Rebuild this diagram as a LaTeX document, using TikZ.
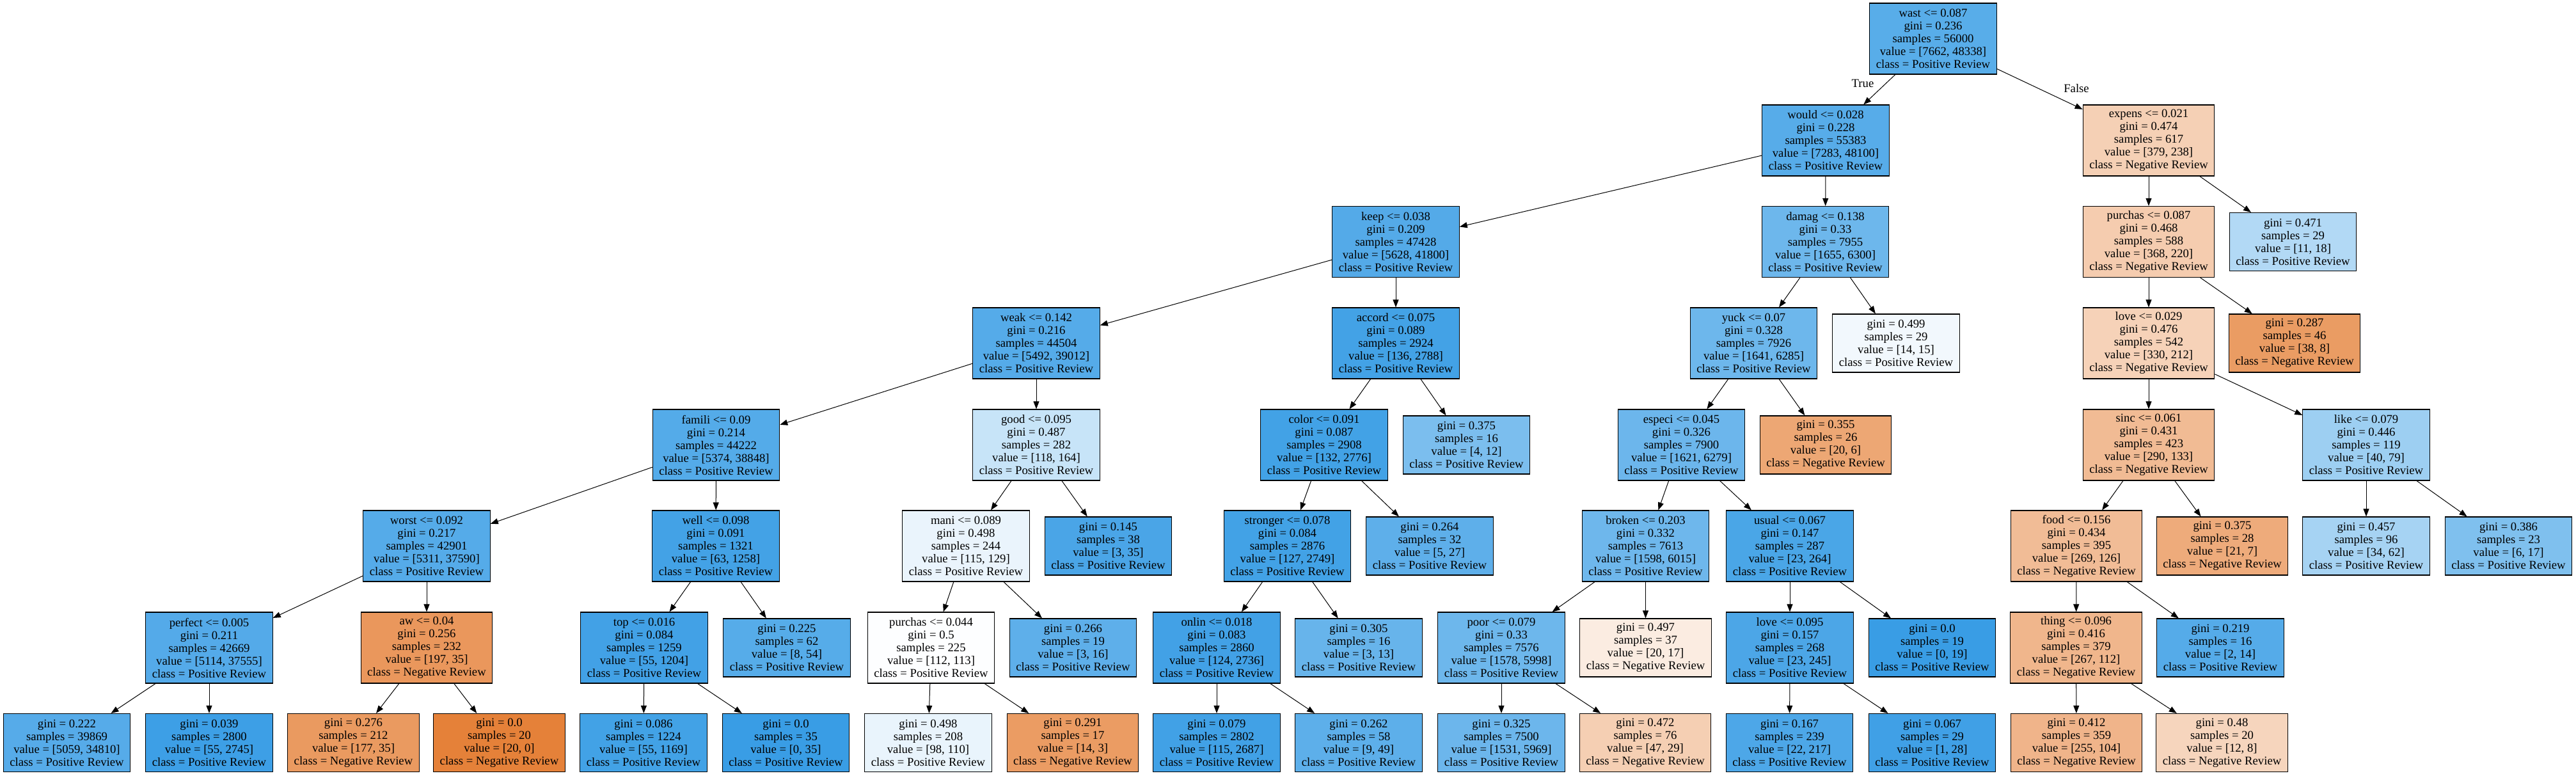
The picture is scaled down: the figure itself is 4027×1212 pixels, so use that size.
\documentclass[tikz,border=0pt]{standalone}
\usepackage{fontspec}
\setmainfont{Liberation Serif}
\usetikzlibrary{arrows.meta}
\definecolor{cneg}{RGB}{229,129,57}
\definecolor{cpos}{RGB}{57,157,229}
\newcommand\setfill[2]{%
  \edef\myalpha{\fpeval{round(100*(1-min(#1,#2)/max(#1,#2)),2)}}%
  \ifnum#1>#2\relax\colorlet{nfill}{cneg!\myalpha!white}\else\colorlet{nfill}{cpos!\myalpha!white}\fi}
\newcommand\inode[8]{\setfill{#7}{#8}%
  \node[tn,fill=nfill,minimum height=55.5pt] (#1) at (#2,#3)
  {#4\\gini = #5\\samples = #6\\value = [#7, #8]\\class = \ifnum#7>#8 Negative\else Positive\fi{} Review};}
\newcommand\lnode[7]{\setfill{#6}{#7}%
  \node[tn,fill=nfill,minimum height=45.5pt] (#1) at (#2,#3)
  {gini = #4\\samples = #5\\value = [#6, #7]\\class = \ifnum#6>#7 Negative\else Positive\fi{} Review};}
\tikzset{
  tn/.style={draw=black,line width=0.6pt,inner xsep=5pt,inner ysep=0pt,align=center,
    font=\fontsize{9.35pt}{10pt}\selectfont},
  edge/.style={line width=0.5pt,-{Triangle[length=6pt,width=4.5pt]}},
  lbl/.style={font=\fontsize{9.35pt}{10pt}\selectfont,inner sep=0pt}
}
\begin{document}
\begin{tikzpicture}[x=0.5pt,y=-0.5pt]
\path[fill=white,use as bounding box] (0,0) rectangle (4027,1212);
% row 0
\inode{root}{3022}{60.5}{wast <= 0.087}{0.236}{56000}{7662}{48338}
% row 1
\inode{would}{2854}{219.5}{would <= 0.028}{0.228}{55383}{7283}{48100}
\inode{expens}{3359}{219.5}{expens <= 0.021}{0.474}{617}{379}{238}
% row 2
\inode{keep}{2182}{378}{keep <= 0.038}{0.209}{47428}{5628}{41800}
\inode{damag}{2853.5}{378}{damag <= 0.138}{0.33}{7955}{1655}{6300}
\inode{purchasA}{3359}{378}{purchas <= 0.087}{0.468}{588}{368}{220}
\lnode{lA}{3584.5}{378}{0.471}{29}{11}{18}
% row 3
\inode{weak}{1620}{536.5}{weak <= 0.142}{0.216}{44504}{5492}{39012}
\inode{accord}{2182}{536.5}{accord <= 0.075}{0.089}{2924}{136}{2788}
\inode{yuck}{2741.5}{536.5}{yuck <= 0.07}{0.328}{7926}{1641}{6285}
\lnode{lB}{2964}{536.5}{0.499}{29}{14}{15}
\inode{loveA}{3359}{536.5}{love <= 0.029}{0.476}{542}{330}{212}
\lnode{lC}{3587}{536.5}{0.287}{46}{38}{8}
% row 4
\inode{famili}{1119.5}{695.5}{famili <= 0.09}{0.214}{44222}{5374}{38848}
\inode{good}{1620}{695.5}{good <= 0.095}{0.487}{282}{118}{164}
\inode{color}{2070}{695.5}{color <= 0.091}{0.087}{2908}{132}{2776}
\lnode{lD}{2292.5}{695.5}{0.375}{16}{4}{12}
\inode{especi}{2628.5}{695.5}{especi <= 0.045}{0.326}{7900}{1621}{6279}
\lnode{lE}{2854}{695.5}{0.355}{26}{20}{6}
\inode{sinc}{3359}{695.5}{sinc <= 0.061}{0.431}{423}{290}{133}
\inode{like}{3699}{695.5}{like <= 0.079}{0.446}{119}{40}{79}
% row 5
\inode{worst}{667}{853.5}{worst <= 0.092}{0.217}{42901}{5311}{37590}
\inode{well}{1119}{853.5}{well <= 0.098}{0.091}{1321}{63}{1258}
\inode{mani}{1510}{853.5}{mani <= 0.089}{0.498}{244}{115}{129}
\lnode{lF}{1732.5}{853.5}{0.145}{38}{3}{35}
\inode{stronger}{2012.5}{853.5}{stronger <= 0.078}{0.084}{2876}{127}{2749}
\lnode{lG}{2235}{853.5}{0.264}{32}{5}{27}
\inode{broken}{2572.5}{853.5}{broken <= 0.203}{0.332}{7613}{1598}{6015}
\inode{usual}{2798}{853.5}{usual <= 0.067}{0.147}{287}{23}{264}
\inode{food}{3246}{853.5}{food <= 0.156}{0.434}{395}{269}{126}
\lnode{lH}{3474}{853.5}{0.375}{28}{21}{7}
\lnode{lI}{3699}{853.5}{0.457}{96}{34}{62}
\lnode{lJ}{3921.5}{853.5}{0.386}{23}{6}{17}
% row 6
\inode{perfect}{327}{1012.5}{perfect <= 0.005}{0.211}{42669}{5114}{37555}
\inode{aw}{667}{1012.5}{aw <= 0.04}{0.256}{232}{197}{35}
\inode{top}{1007}{1012.5}{top <= 0.016}{0.084}{1259}{55}{1204}
\lnode{lK}{1230}{1012.5}{0.225}{62}{8}{54}
\inode{purchasB}{1455.5}{1012.5}{purchas <= 0.044}{0.5}{225}{112}{113}
\lnode{lL}{1677.5}{1012.5}{0.266}{19}{3}{16}
\inode{onlin}{1902}{1012.5}{onlin <= 0.018}{0.083}{2860}{124}{2736}
\lnode{lM}{2124}{1012.5}{0.305}{16}{3}{13}
\inode{poor}{2347}{1012.5}{poor <= 0.079}{0.33}{7576}{1578}{5998}
\lnode{lN}{2572.5}{1012.5}{0.497}{37}{20}{17}
\inode{loveB}{2798}{1012.5}{love <= 0.095}{0.157}{268}{23}{245}
\lnode{lO}{3020.5}{1012.5}{0.0}{19}{0}{19}
\inode{thing}{3245.5}{1012.5}{thing <= 0.096}{0.416}{379}{267}{112}
\lnode{lP}{3471}{1012.5}{0.219}{16}{2}{14}
% row 7
\lnode{m1}{104.5}{1161}{0.222}{39869}{5059}{34810}
\lnode{m2}{327}{1161}{0.039}{2800}{55}{2745}
\lnode{m3}{552.5}{1161}{0.276}{212}{177}{35}
\lnode{m4}{780.5}{1161}{0.0}{20}{20}{0}
\lnode{m5}{1006}{1161}{0.086}{1224}{55}{1169}
\lnode{m6}{1228.5}{1161}{0.0}{35}{0}{35}
\lnode{m7}{1451}{1161}{0.498}{208}{98}{110}
\lnode{m8}{1677}{1161}{0.291}{17}{14}{3}
\lnode{m9}{1902}{1161}{0.079}{2802}{115}{2687}
\lnode{m10}{2124}{1161}{0.262}{58}{9}{49}
\lnode{m11}{2347}{1161}{0.325}{7500}{1531}{5969}
\lnode{m12}{2572}{1161}{0.472}{76}{47}{29}
\lnode{m13}{2797.5}{1161}{0.167}{239}{22}{217}
\lnode{m14}{3020.5}{1161}{0.067}{29}{1}{28}
\lnode{m15}{3246}{1161}{0.412}{359}{255}{104}
\lnode{m16}{3473.5}{1161}{0.48}{20}{12}{8}
% labels
\node[lbl] (lblT) at (2912,130) {True};
\node[lbl] (lblF) at (3246,138) {False};
% edges
\foreach \a/\b in {root/would,root/expens,would/keep,would/damag,keep/weak,keep/accord,
  damag/yuck,damag/lB,expens/purchasA,expens/lA,purchasA/loveA,purchasA/lC,
  weak/famili,weak/good,accord/color,accord/lD,yuck/especi,yuck/lE,loveA/sinc,loveA/like,
  famili/worst,famili/well,good/mani,good/lF,color/stronger,color/lG,especi/broken,especi/usual,
  sinc/food,sinc/lH,like/lI,like/lJ,worst/perfect,worst/aw,well/top,well/lK,
  mani/purchasB,mani/lL,stronger/onlin,stronger/lM,broken/poor,broken/lN,usual/loveB,usual/lO,
  food/thing,food/lP,perfect/m1,perfect/m2,aw/m3,aw/m4,top/m5,top/m6,purchasB/m7,purchasB/m8,
  onlin/m9,onlin/m10,poor/m11,poor/m12,loveB/m13,loveB/m14,thing/m15,thing/m16}
  {\draw[edge] (\a) -- (\b);}
\end{tikzpicture}
\end{document}
